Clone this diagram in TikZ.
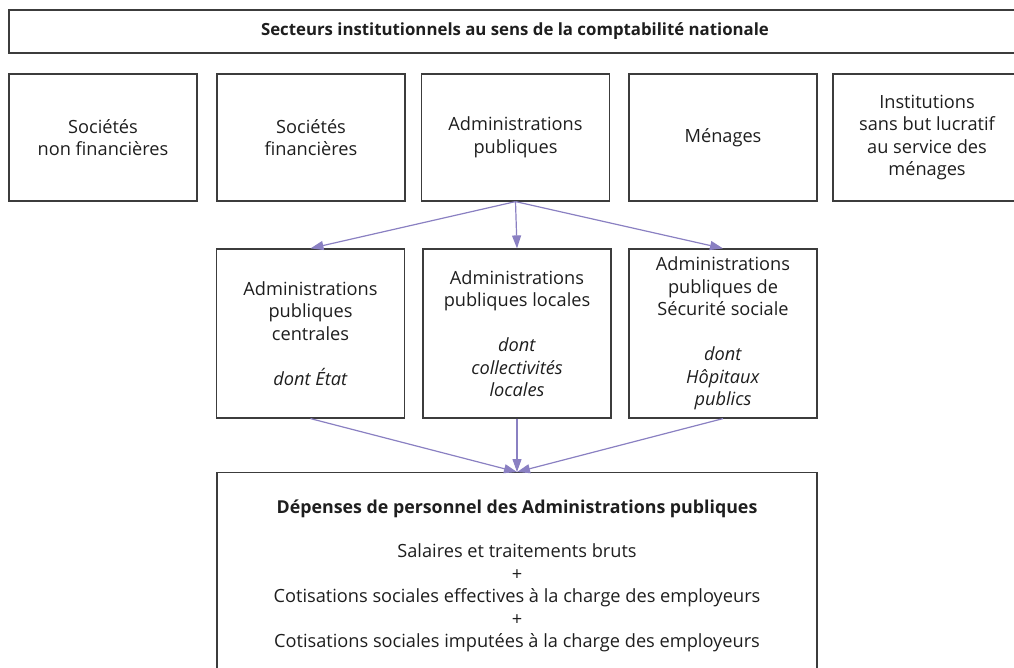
\documentclass[tikz,border=0pt]{standalone}
\usepackage{fontspec}
\setmainfont{Open Sans}
\usepackage{xcolor}
\usepackage{tikz}
\usetikzlibrary{positioning, arrows.meta}
\definecolor{cadre}{HTML}{3C3C3C}
\definecolor{texte}{HTML}{1E1E1E}
\definecolor{violet}{HTML}{8A80C2}

\tikzset{
  boite/.style={draw=cadre, line width=1.2pt, text=texte, align=center,
                inner sep=0pt, font=\fontsize{18.2}{22.5}\selectfont},
  secteur/.style={boite, minimum width=188pt, minimum height=127pt},
  sousecteur/.style={boite, minimum width=188pt, minimum height=169pt},
  fleche/.style={draw=violet, line width=1.2pt, -{Triangle[length=13pt,width=9pt]}},
}

\begin{document}
\begin{tikzpicture}[x=1pt, y=-1pt]
    \useasboundingbox (0,0) rectangle (1014,667);

    % titre
    \node[boite, minimum width=1012pt, minimum height=43pt,
          font=\bfseries\fontsize{16.8}{20}\selectfont] (secteurs) at (515,31.5)
      {Secteurs institutionnels au sens de la comptabilité nationale};

    % les cinq secteurs
    \node[secteur] (snf) at (103,137.5) {Sociétés\\non financières};
    \node[secteur] (sf) at (311,137.5) {Sociétés\\financières};
    \node[secteur] (apu) at (515.5,137.5) {Administrations\\publiques};
    \node[secteur] (men) at (723,137.5) {Ménages};
    \node[secteur] (isbl) at (927,137.5)
      {Institutions\\sans but lucratif\\au service des\\ménages};

    % sous-secteurs des APU
    \node[sousecteur] (apuc) at (310.5,333.5)
      {Administrations\\publiques\\centrales\\[22.5pt]\textit{dont État}};
    \node[sousecteur] (apul) at (517,333.5)
      {Administrations\\publiques locales\\[22.5pt]\textit{dont}\\\textit{collectivités}\\\textit{locales}};
    \node[sousecteur] (asso) at (723,333.5)
      {Administrations\\publiques de\\Sécurité sociale\\[22.5pt]\textit{dont}\\\textit{Hôpitaux}\\\textit{publics}};

    % dépenses
    \node[boite, anchor=north, minimum width=600pt, inner ysep=27pt] (dep) at (517,472)
      {\textbf{\fontsize{17.8}{22}\selectfont Dépenses de personnel des Administrations publiques}\\[22pt]
       Salaires et traitements bruts\\
       +\\
       Cotisations sociales effectives à la charge des employeurs\\
       +\\
       Cotisations sociales imputées à la charge des employeurs};

    \draw[fleche] (apu.south) -- (apuc.north);
    \draw[fleche] (apu.south) -- (apul.north);
    \draw[fleche] (apu.south) -- (asso.north);
    \draw[fleche] (apuc.south) -- (dep.north);
    \draw[fleche] (apul.south) -- (dep.north);
    \draw[fleche] (asso.south) -- (dep.north);
\end{tikzpicture}
\end{document}
